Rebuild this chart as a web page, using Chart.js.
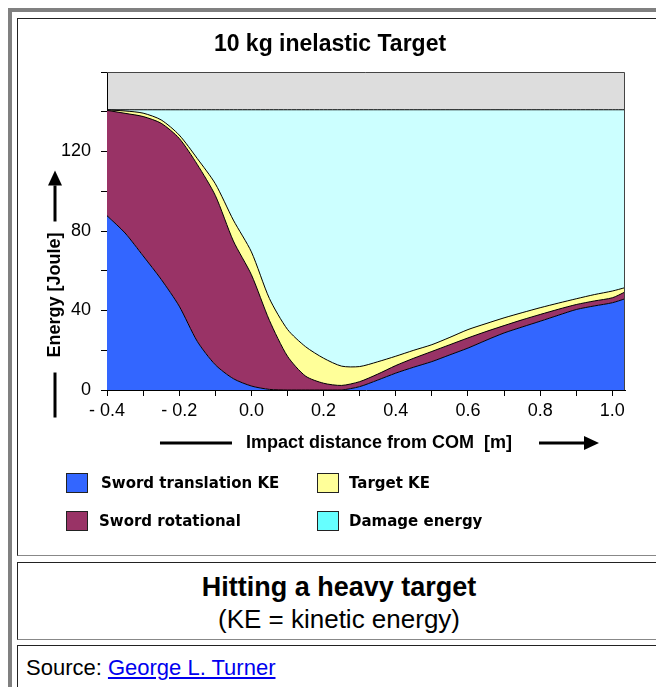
<!DOCTYPE html>
<html>
<head>
<meta charset="utf-8">
<script src="https://cdn.jsdelivr.net/npm/chart.js@4.4.1/dist/chart.umd.min.js"></script>
<style>
  body { margin: 0; background: #fff; overflow: hidden; width: 656px; height: 687px; position: relative;
         font-family: "Liberation Sans", Arial, sans-serif; }
  #frame { position: absolute; left: 8px; top: 8px; width: 720px; height: 720px;
           border-left: 4px solid #808080; border-top: 4px solid #808080; }
  .cell { position: absolute; left: 17px; width: 644px; box-sizing: border-box;
          border-top: 1px solid #222; border-left: 1px solid #222;
          border-bottom: 1px solid #888; border-right: 1px solid #888; }
  #chartCell { top: 18px; height: 538px; }
  #capCell { top: 562px; height: 78px; text-align: center; padding-top: 8px; font-size: 26px; line-height: 32px; }
  #capCell b { display: block; font-size: 27px; }
  #srcCell { top: 645px; height: 60px; padding: 10px 0 0 8px; font-size: 22px; line-height: 24px; }
  #srcCell a { color: #0000ee; text-decoration: underline; }
  #chartWrap { position: absolute; left: 0; top: 0; width: 638px; height: 535px; }
  .lg { position: absolute; font: bold 15px "DejaVu Sans", sans-serif; color: #000; white-space: nowrap; }
  .lg span.box { position: absolute; left: 0; top: 0; width: 20px; height: 18px; border: 1px solid #222; }
  .lg span.txt { position: absolute; top: 1px; }
</style>
</head>
<body>
<div id="frame"></div>
<div class="cell" id="chartCell">
  <div id="chartWrap"><canvas id="energyChart" width="638" height="535"></canvas></div>
  <div id="legend"></div>
</div>
<div class="cell" id="capCell"><b>Hitting a heavy target</b>(KE = kinetic energy)</div>
<div class="cell" id="srcCell">Source: <a href="#">George L. Turner</a></div>

<script>
// impact distance from centre of mass [m]
const xValues = [-0.4, -0.35, -0.3, -0.25, -0.2, -0.15, -0.1, -0.05, 0.0, 0.05,
                 0.1, 0.15, 0.2, 0.25, 0.3, 0.35, 0.4, 0.45, 0.5, 0.55,
                 0.6, 0.65, 0.7, 0.75, 0.8, 0.85, 0.9, 0.95, 1.0, 1.035];

// energies [Joule], stacked bottom to top
const translationKE = [87.7, 79.0, 67.5, 55.7, 42.2, 24.5, 12.7, 5.7, 2.0, 0.3,
                       0, 0, 0, 0, 1.7, 5.0, 8.5, 11.5, 14.3, 17.7,
                       21.1, 25.0, 28.7, 31.7, 34.6, 37.6, 40.5, 42.3, 43.9, 45.9];
const rotationalKE  = [53.0, 60.2, 70.1, 78.5, 84.4, 89.0, 85.2, 69.3, 56.0, 34.7,
                       17.0, 7.0, 3.4, 2.3, 2.5, 3.0, 3.8, 4.5, 5.1, 5.1,
                       5.1, 4.4, 3.7, 3.6, 3.4, 3.0, 2.5, 2.5, 2.5, 3.4];
const targetKE      = [0.2, 1.2, 1.7, 1.7, 1.7, 3.0, 5.9, 10.5, 11.5, 11.0,
                       13.5, 14.8, 12.6, 9.7, 7.6, 6.2, 4.7, 4.0, 3.4, 3.7,
                       4.2, 4.0, 3.9, 3.6, 3.4, 3.1, 2.9, 3.2, 3.4, 2.2];
const damageEnergy  = [0.1, 0.6, 1.7, 5.1, 12.7, 24.5, 37.2, 55.5, 71.5, 95.0,
                       110.5, 119.2, 125.0, 129.0, 129.2, 126.8, 124.0, 121.0, 118.2, 114.5,
                       110.6, 107.6, 104.7, 102.1, 99.6, 97.3, 95.1, 93.0, 91.2, 89.5];

const seriesNames  = ['Sword translation KE', 'Sword rotational', 'Target KE', 'Damage energy'];
const seriesData   = [translationKE, rotationalKE, targetKE, damageEnergy];
const fillColors   = ['#3366ff', '#993366', '#ffff99', '#ccffff'];
const legendColors = ['#3366ff', '#993366', '#ffff99', '#66ffff'];
const legendOrder  = [0, 2, 1, 3];   // two columns, read across

const yLabelTicks = [0, 40, 80, 120];
const xLabelTicks = [-0.4, -0.2, 0.0, 0.2, 0.4, 0.6, 0.8, 1.0];

const chartTitle = '10 kg inelastic Target';
const xTitle = 'Impact distance from COM  [m]';
const yTitle = 'Energy [Joule]';

Chart.defaults.font.family = '"Liberation Sans", Arial, sans-serif';
Chart.defaults.color = '#000';

function arrow(ctx, x1, y1, x2, y2) {
    const ang = Math.atan2(y2 - y1, x2 - x1), len = 15, half = 7;
    const bx = x2 - len * Math.cos(ang), by = y2 - len * Math.sin(ang);
    ctx.beginPath(); ctx.moveTo(x1, y1); ctx.lineTo(bx, by); ctx.stroke();
    ctx.beginPath();
    ctx.moveTo(x2, y2);
    ctx.lineTo(bx + half * Math.sin(ang), by - half * Math.cos(ang));
    ctx.lineTo(bx - half * Math.sin(ang), by + half * Math.cos(ang));
    ctx.closePath(); ctx.fill();
}

const decor = {
    id: 'decor',
    beforeDraw(chart) {
        const { ctx, chartArea: a } = chart;
        ctx.save();
        ctx.fillStyle = '#dddddd';
        ctx.fillRect(a.left, a.top, a.right - a.left, a.bottom - a.top);
        ctx.restore();
    },
    afterDraw(chart) {
        const { ctx, chartArea: a } = chart;
        ctx.save();
        // plot frame, top and right
        ctx.strokeStyle = '#444'; ctx.lineWidth = 1;
        ctx.beginPath();
        ctx.moveTo(a.left, a.top + 0.5); ctx.lineTo(a.right - 0.5, a.top + 0.5); ctx.lineTo(a.right - 0.5, a.bottom);
        ctx.stroke();

        ctx.fillStyle = '#000'; ctx.strokeStyle = '#000';
        ctx.textAlign = 'center'; ctx.textBaseline = 'middle';

        // title
        ctx.font = 'bold 23px "Liberation Sans", Arial';
        ctx.fillText(chartTitle, (a.left + a.right) / 2 - 36, 26);

        // x axis title with line and arrow
        ctx.font = 'bold 18px "Liberation Sans", Arial';
        const xc = (a.left + a.right) / 2 + 13, yc = a.bottom + 53;
        const wx = ctx.measureText(xTitle).width;
        ctx.fillText(xTitle, xc, yc);
        ctx.lineWidth = 3;
        ctx.beginPath(); ctx.moveTo(xc - wx / 2 - 86, yc); ctx.lineTo(xc - wx / 2 - 14, yc); ctx.stroke();
        arrow(ctx, xc + wx / 2 + 27, yc, xc + wx / 2 + 87, yc);

        // y axis title with line and arrow
        const yx = a.left - 52, yy = (a.top + a.bottom) / 2 + 64;
        const wy = ctx.measureText(yTitle).width;
        ctx.save();
        ctx.translate(yx, yy); ctx.rotate(-Math.PI / 2);
        ctx.fillText(yTitle, 0, 0);
        ctx.restore();
        ctx.beginPath(); ctx.moveTo(yx, yy + wy / 2 + 15); ctx.lineTo(yx, yy + wy / 2 + 60); ctx.stroke();
        arrow(ctx, yx, yy - wy / 2 - 11, yx, yy - wy / 2 - 62);
        ctx.restore();
    }
};

const datasets = seriesData.map((arr, i) => ({
    label: seriesNames[i],
    data: xValues.map((x, j) => ({ x: x, y: arr[j] })),
    backgroundColor: fillColors[i],
    borderColor: '#000',
    borderWidth: 1,
    pointRadius: 0,
    tension: 0.25,
    fill: i === 0 ? 'origin' : '-1'
}));

new Chart(document.getElementById('energyChart'), {
    type: 'line',
    data: { datasets },
    options: {
        responsive: false,
        animation: false,
        layout: { padding: { top: 53, right: 31, bottom: 124, left: 0 } },
        plugins: { legend: { display: false }, tooltip: { enabled: false }, title: { display: false } },
        scales: {
            x: {
                type: 'linear', min: -0.4, max: 1.035,
                afterFit: s => { s.height = 40; },
                grid: { drawOnChartArea: false, drawTicks: true, tickLength: 6, color: '#000' },
                border: { color: '#000' },
                ticks: {
                    stepSize: 0.1, includeBounds: false, autoSkip: false, maxRotation: 0, padding: 4,
                    font: { size: 18 },
                    callback: v => {
                        const r = Math.round(v * 10) / 10;
                        if (!xLabelTicks.some(t => Math.abs(t - r) < 1e-6)) return '';
                        return r < 0 ? '- ' + Math.abs(r).toFixed(1) : r.toFixed(1);
                    }
                }
            },
            y: {
                stacked: true, min: 0, max: 160,
                afterFit: s => { s.width = 89; },
                grid: { drawOnChartArea: false, drawTicks: true, tickLength: 6, color: '#000' },
                border: { color: '#000' },
                ticks: {
                    stepSize: 20, padding: 10, font: { size: 18 },
                    callback: v => yLabelTicks.includes(v) ? String(v) : ''
                }
            }
        }
    },
    plugins: [decor]
});

// legend: two columns, boxes and bold labels
const legendPos = [[48, 454, 35], [299, 454, 32], [48, 492, 33], [299, 492, 32]];
const lgDiv = document.getElementById('legend');
legendOrder.forEach((k, n) => {
    const p = legendPos[n];
    const el = document.createElement('div');
    el.className = 'lg';
    el.style.left = p[0] + 'px'; el.style.top = p[1] + 'px';
    el.innerHTML = '<span class="box" style="background:' + legendColors[k] + '"></span>' +
                   '<span class="txt" style="left:' + p[2] + 'px">' + seriesNames[k] + '</span>';
    lgDiv.appendChild(el);
});
</script>
</body>
</html>
